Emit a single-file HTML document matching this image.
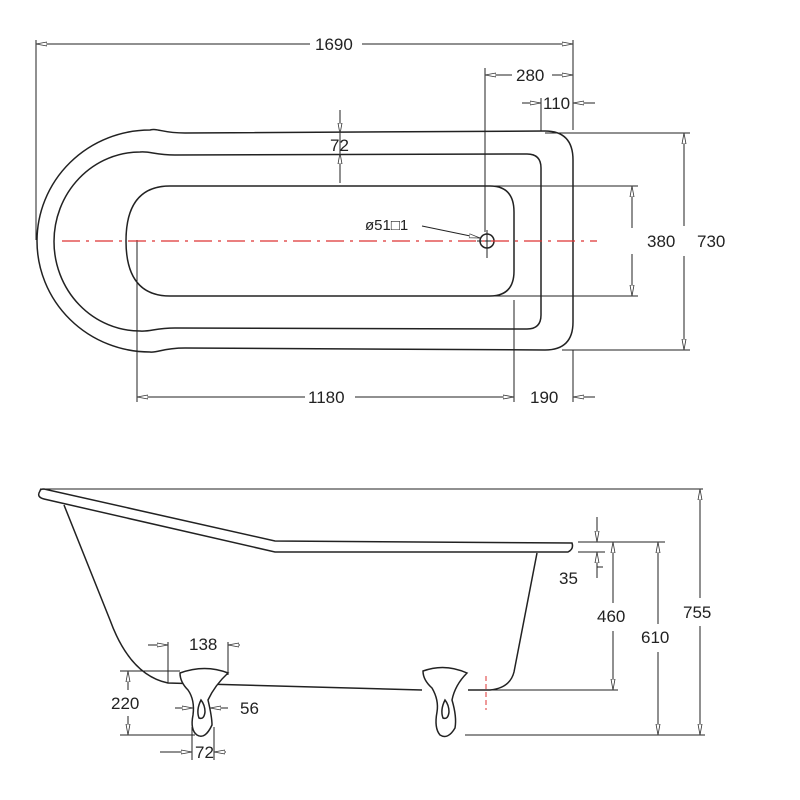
<!DOCTYPE html>
<html><head><style>body{margin:0;background:#fff}svg{display:block}text{font-family:"Liberation Sans",Arial,sans-serif;font-size:17px;fill:#222}</style></head><body>
<svg width="800" height="800" viewBox="0 0 800 800" xmlns="http://www.w3.org/2000/svg">
<defs>
<marker id="a" markerWidth="12" markerHeight="6" refX="11" refY="3" orient="auto" markerUnits="userSpaceOnUse"><path d="M0,1 L11,3 L0,5 Z" fill="#fff" stroke="#333" stroke-width="0.8"/></marker>
</defs>
<g fill="none" stroke="#222" stroke-width="1.5">
<path d="M150,130 C158,128 162,133 185,133 L545,131 Q573,131 573,160 L573,322 Q573,350 545,350 L185,348 C162,348 158,353 150,352 A113,111 0 0 1 150,130 Z"/>
<path d="M140,152 C150,151 155,155 175,155 L527,154 Q541,154 541,168 L541,315 Q541,329 527,329 L175,328 C155,328 150,332 140,331 A86,89.5 0 0 1 140,152 Z"/>
<path d="M170,186 L490,186 Q514,186 514,212 L514,271 Q514,296 490,296 L170,296 Q126,296 126,241 Q126,186 170,186 Z"/>
<circle cx="487" cy="241" r="7"/>
</g>
<g stroke="#222" stroke-width="1" fill="none">
<path d="M487,230 V258 M477,241 H497"/>
<path d="M36,40 V240 M573,40 V130 M485,68 V232 M541,98 V131 M340,110 V183 M545,133 H690 M562,350 H690 M490,186 H638 M490,296 H638 M137,240 V402 M514,300 V402 M573,350 V402"/>
<line x1="310" y1="44" x2="36" y2="44" marker-end="url(#a)"/><line x1="362" y1="44" x2="573" y2="44" marker-end="url(#a)"/>
<line x1="512" y1="75" x2="485" y2="75" marker-end="url(#a)"/><line x1="552" y1="75" x2="573" y2="75" marker-end="url(#a)"/>
<line x1="522" y1="103" x2="541" y2="103" marker-end="url(#a)"/><line x1="595" y1="103" x2="573" y2="103" marker-end="url(#a)"/>
<line x1="340" y1="110" x2="340" y2="134" marker-end="url(#a)"/><line x1="340" y1="183" x2="340" y2="153" marker-end="url(#a)"/>
<line x1="684" y1="226" x2="684" y2="133" marker-end="url(#a)"/><line x1="684" y1="256" x2="684" y2="350" marker-end="url(#a)"/>
<line x1="632" y1="228" x2="632" y2="186" marker-end="url(#a)"/><line x1="632" y1="254" x2="632" y2="296" marker-end="url(#a)"/>
<line x1="305" y1="397" x2="137" y2="397" marker-end="url(#a)"/><line x1="355" y1="397" x2="514" y2="397" marker-end="url(#a)"/>
<line x1="595" y1="397" x2="573" y2="397" marker-end="url(#a)"/>
<line x1="422" y1="226" x2="480" y2="238" marker-end="url(#a)"/>
</g>
<line x1="62" y1="241" x2="597" y2="241" stroke="#d33" stroke-width="1.3" stroke-dasharray="18,6,3,6"/>
<text x="315" y="50">1690</text>
<text x="516" y="81">280</text>
<text x="543" y="109">110</text>
<text x="330" y="151">72</text>
<text x="365" y="230" style="font-size:15px">ø51□1</text>
<text x="647" y="247">380</text>
<text x="697" y="247">730</text>
<text x="308" y="403">1180</text>
<text x="530" y="403">190</text>
<g fill="none" stroke="#222" stroke-width="1.5">
<path d="M40,491 Q36,497 44,499 L275,552 L568,552 Q574,549 572,543 L275,541 L44,489 Q40,489 40,491 Z"/>
<path d="M64,505 L110,620 Q130,675 168,683 L422,690 M468,690 L490,690 Q510,688 514,672 L537,553"/>
<path d="M180,673 Q205,664 228,673 Q215,685 208,700 Q212,717 212,725 Q205,740 197,735 Q190,730 193,715 Q195,700 188,690 Q180,682 180,673 Z" fill="#fff"/>
<path d="M201,700 Q196,710 199,718 Q204,720 205,712 Q205,705 201,700 Z"/>
<path d="M423,671 Q445,663 467,673 Q455,685 452,700 Q457,717 455,728 Q448,740 440,735 Q434,728 437,712 Q439,700 432,688 Q423,680 423,671 Z" fill="#fff"/>
<path d="M445,700 Q440,710 443,718 Q448,720 449,712 Q449,705 445,700 Z"/>
</g>
<g stroke="#222" stroke-width="1" fill="none">
<path d="M40,489 H703 M578,542 H665 M578,552 H605 M490,690 H618 M465,735 H705 M120,671 H180 M120,735 H195 M168,642 V683 M228,642 V675 M192,727 V760 M214,727 V760 M597,567 H603"/>
<line x1="700" y1="598" x2="700" y2="489" marker-end="url(#a)"/><line x1="700" y1="626" x2="700" y2="735" marker-end="url(#a)"/>
<line x1="658" y1="624" x2="658" y2="542" marker-end="url(#a)"/><line x1="658" y1="652" x2="658" y2="735" marker-end="url(#a)"/>
<line x1="613" y1="603" x2="613" y2="542" marker-end="url(#a)"/><line x1="613" y1="631" x2="613" y2="690" marker-end="url(#a)"/>
<line x1="597" y1="517" x2="597" y2="542" marker-end="url(#a)"/><line x1="597" y1="578" x2="597" y2="552" marker-end="url(#a)"/>
<line x1="148" y1="645" x2="168" y2="645" marker-end="url(#a)"/><line x1="240" y1="645" x2="228" y2="645" marker-end="url(#a)"/>
<line x1="128" y1="690" x2="128" y2="671" marker-end="url(#a)"/><line x1="128" y1="716" x2="128" y2="735" marker-end="url(#a)"/>
<line x1="175" y1="708" x2="193" y2="708" marker-end="url(#a)"/><line x1="228" y1="708" x2="210" y2="708" marker-end="url(#a)"/>
<line x1="160" y1="752" x2="192" y2="752" marker-end="url(#a)"/><line x1="226" y1="752" x2="214" y2="752" marker-end="url(#a)"/>
</g>
<line x1="486" y1="676" x2="486" y2="710" stroke="#d33" stroke-width="1" stroke-dasharray="5,3"/>
<text x="559" y="584">35</text>
<text x="597" y="622">460</text>
<text x="641" y="643">610</text>
<text x="683" y="618">755</text>
<text x="189" y="650">138</text>
<text x="111" y="709">220</text>
<text x="240" y="714">56</text>
<text x="195" y="758">72</text>
</svg>
</body></html>
